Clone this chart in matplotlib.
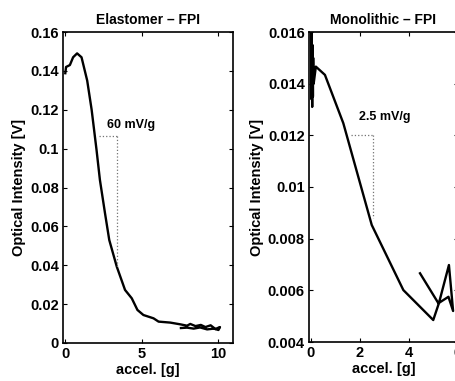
import numpy as np
import matplotlib.pyplot as plt

plt.rcParams['font.family'] = ['Liberation Sans', 'DejaVu Sans']
plt.rcParams['font.weight'] = 'bold'
plt.rcParams['font.size'] = 10

# Elastomer - FPI (forward sweep then return branch)
elast_x = [0.0, 0.05, 0.3, 0.51, 0.77, 1.06, 1.43, 1.72, 2.04, 2.26, 2.59, 2.87,
           3.36, 3.90, 4.34, 4.71, 5.10, 5.76, 6.09, 6.85, 7.51, 7.95, 8.16, 8.5,
           8.85, 9.15, 9.49, 9.8, 10.1, 10.0, 9.7, 9.26, 8.8, 8.38, 7.95, 7.55]
elast_y = [0.1388, 0.1420, 0.143, 0.147, 0.149, 0.147, 0.135, 0.120, 0.0993,
           0.0839, 0.0669, 0.0530, 0.0393, 0.0273, 0.0230, 0.0170, 0.0144,
           0.0127, 0.0110, 0.0105, 0.0096, 0.0089, 0.0098, 0.0087, 0.0093,
           0.0082, 0.0091, 0.0072, 0.0082, 0.0067, 0.0074, 0.0070, 0.0080,
           0.0074, 0.0079, 0.0077]

# Monolithic - FPI
mono_x = [0.0, 0.02, 0.03, 0.05, 0.06, 0.08, 0.09, 0.11, 0.2, 0.57, 1.32, 2.48,
          3.77, 4.99, 5.22, 5.63, 5.80, 5.61, 5.2, 4.45]
mono_y = [0.0159, 0.0134, 0.0160, 0.0131, 0.0155, 0.0135, 0.0150, 0.0140,
          0.01466, 0.01434, 0.01247, 0.00853, 0.00601, 0.00485, 0.0055,
          0.00698, 0.0052, 0.00575, 0.0055, 0.00666]

fig = plt.figure(figsize=(4.56, 3.81), dpi=100)

ax1 = fig.add_axes([63 / 456, 38 / 381, 170 / 456, 311 / 381])
ax1.plot(elast_x, elast_y, color='black', lw=1.7)
ax1.plot([2.2, 3.38], [0.1065, 0.1065], ls=':', color='0.45', lw=0.9)
ax1.plot([3.38, 3.38], [0.1065, 0.039], ls=':', color='0.45', lw=0.9)
ax1.text(2.72, 0.112, '60 mV/g', fontsize=9, fontweight='bold', va='center')
ax1.set_xlim(-0.15, 10.95)
ax1.set_ylim(0, 0.16)
ax1.set_xticks([0, 5, 10])
ax1.set_yticks([0, 0.02, 0.04, 0.06, 0.08, 0.1, 0.12, 0.14, 0.16])
ax1.set_yticklabels(['0', '0.02', '0.04', '0.06', '0.08', '0.1', '0.12', '0.14', '0.16'])
ax1.set_title('Elastomer – FPI', fontsize=10, fontweight='bold', pad=6)
ax1.set_xlabel('accel. [g]', fontsize=10.5, fontweight='bold', labelpad=1)
ax1.set_ylabel('Optical Intensity [V]', fontsize=10.5, fontweight='bold', labelpad=3)

ax2 = fig.add_axes([309 / 456, 39 / 381, 149 / 456, 310 / 381])
ax2.plot(mono_x, mono_y, color='black', lw=1.7)
ax2.plot([1.63, 2.53], [0.012, 0.012], ls=':', color='0.45', lw=0.9)
ax2.plot([2.53, 2.53], [0.012, 0.0088], ls=':', color='0.45', lw=0.9)
ax2.text(1.96, 0.0127, '2.5 mV/g', fontsize=9, fontweight='bold', va='center')
ax2.set_xlim(-0.08, 6.0)
ax2.set_ylim(0.004, 0.016)
ax2.set_xticks([0, 2, 4, 6])
ax2.set_yticks([0.004, 0.006, 0.008, 0.01, 0.012, 0.014, 0.016])
ax2.set_yticklabels(['0.004', '0.006', '0.008', '0.01', '0.012', '0.014', '0.016'])
ax2.set_title('Monolithic – FPI', fontsize=10, fontweight='bold', pad=6)
ax2.set_xlabel('accel. [g]', fontsize=10.5, fontweight='bold', labelpad=1)
ax2.set_ylabel('Optical Intensity [V]', fontsize=10.5, fontweight='bold', labelpad=3)

for ax in (ax1, ax2):
    ax.tick_params(direction='in', length=3, width=0.8, top=True, right=True,
                   labelsize=10.5, pad=3)
    for lab in ax.get_xticklabels() + ax.get_yticklabels():
        lab.set_fontweight('bold')
    for sp in ax.spines.values():
        sp.set_linewidth(1.2)

fig.savefig('out.png', dpi=100)
